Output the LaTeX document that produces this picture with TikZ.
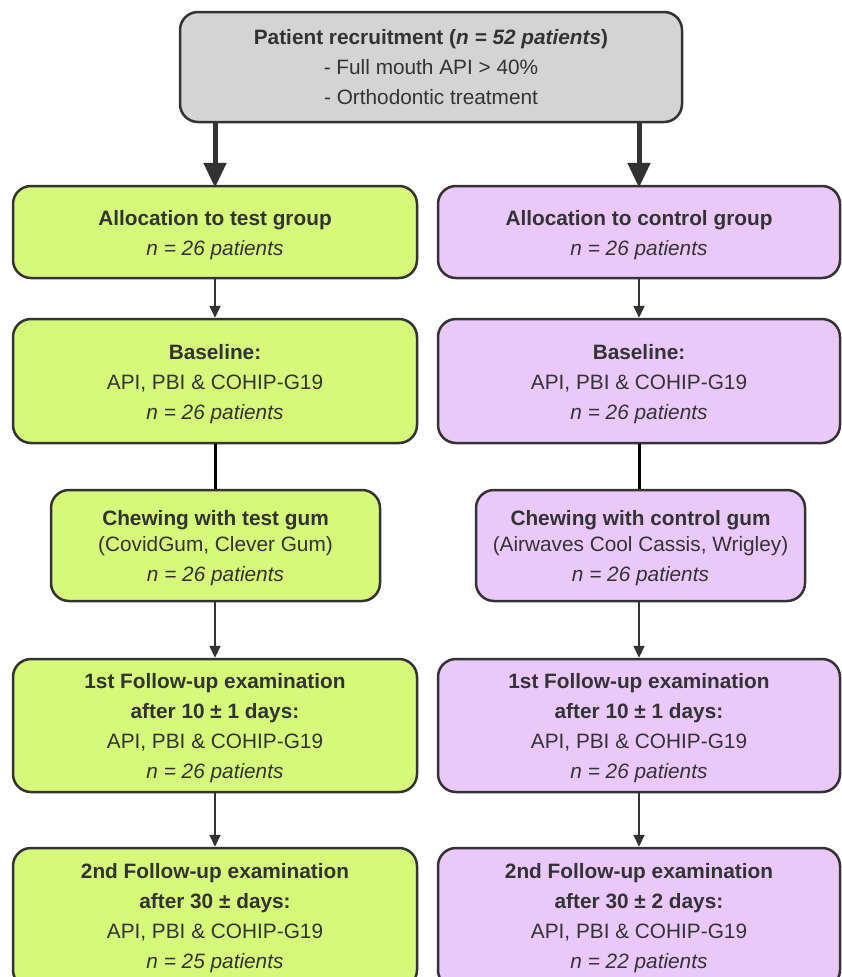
\documentclass[tikz,border=0pt]{standalone}
\usepackage{fontspec}
\setmainfont{Liberation Sans}
\usetikzlibrary{arrows.meta,calc}
\definecolor{txt}{HTML}{333333}
\definecolor{gbox}{HTML}{D6F97B}
\definecolor{pbox}{HTML}{EAC8FB}
\definecolor{greybox}{HTML}{D4D4D4}
\newcommand\tstr{\rule{0pt}{21pt}}
\begin{document}
\begin{tikzpicture}[x=1pt,y=-1pt,
  box/.style={draw=txt, line width=2.5pt, rounded corners=18pt, text=txt, align=center,
    font=\fontsize{20.8}{30}\selectfont, inner sep=0pt},
  gb/.style={box, fill=gbox},
  pb/.style={box, fill=pbox},
  bigarrow/.style={draw=txt, line width=5pt, -{Triangle[length=25pt,width=22pt]}},
  smallarrow/.style={draw=txt, line width=2pt, -{Triangle[length=12pt,width=11pt]}},
  plainline/.style={draw=black, line width=3pt}]
\useasboundingbox (0,0) rectangle (842,977);

\node[box, fill=greybox, minimum width=502pt, minimum height=110pt] (top) at (431,67)
  {\textbf{Patient recruitment (\textit{n = 52 patients})}\\- Full mouth API > 40\%\\- Orthodontic treatment};

\node[gb, minimum width=404pt, minimum height=92pt] (al) at (215,232)
  {\tstr\textbf{Allocation to test group}\\\textit{n = 26 patients}};
\node[pb, minimum width=402pt, minimum height=92pt] (ar) at (639,232)
  {\tstr\textbf{Allocation to control group}\\\textit{n = 26 patients}};

\node[gb, minimum width=404pt, minimum height=124pt] (bl) at (215,381)
  {\tstr\textbf{Baseline:}\\API, PBI \& COHIP-G19\\\textit{n = 26 patients}};
\node[pb, minimum width=402pt, minimum height=124pt] (br) at (639,381)
  {\tstr\textbf{Baseline:}\\API, PBI \& COHIP-G19\\\textit{n = 26 patients}};

\node[gb, minimum width=329pt, minimum height=111pt] (cl) at (215.5,545.5)
  {\tstr\textbf{Chewing with test gum}\\[-4pt](CovidGum, Clever Gum)\\\textit{n = 26 patients}};
\node[pb, minimum width=329pt, minimum height=111pt] (cr) at (640.5,545.5)
  {\tstr\textbf{Chewing with control gum}\\[-4pt](Airwaves Cool Cassis, Wrigley)\\\textit{n = 26 patients}};

\node[gb, minimum width=404pt, minimum height=133pt] (fl) at (215,725.5)
  {\tstr\textbf{1st Follow-up examination}\\\textbf{after 10 ± 1 days:}\\API, PBI \& COHIP-G19\\\textit{n = 26 patients}};
\node[pb, minimum width=402pt, minimum height=133pt] (fr) at (639,725.5)
  {\tstr\textbf{1st Follow-up examination}\\\textbf{after 10 ± 1 days:}\\API, PBI \& COHIP-G19\\\textit{n = 26 patients}};

\node[gb, minimum width=404pt, minimum height=140pt] (sl) at (215,918)
  {\textbf{2nd Follow-up examination}\\\textbf{after 30 ± days:}\\API, PBI \& COHIP-G19\\\textit{n = 25 patients}};
\node[pb, minimum width=402pt, minimum height=140pt] (sr) at (639,918)
  {\textbf{2nd Follow-up examination}\\\textbf{after 30 ± 2 days:}\\API, PBI \& COHIP-G19\\\textit{n = 22 patients}};

\draw[bigarrow] (top.south -| al.north) -- ([yshift=-3pt]al.north);
\draw[bigarrow] (top.south -| ar.north) -- ([yshift=-3pt]ar.north);

\draw[smallarrow] (al.south) -- (bl.north);
\draw[smallarrow] (ar.south) -- (br.north);
\draw[plainline] (bl.south) -- (cl.north -| bl.south);
\draw[plainline] (br.south) -- (cr.north -| br.south);
\draw[smallarrow] (cl.south -| fl.north) -- (fl.north);
\draw[smallarrow] (cr.south -| fr.north) -- (fr.north);
\draw[smallarrow] (fl.south) -- (sl.north);
\draw[smallarrow] (fr.south) -- (sr.north);
\end{tikzpicture}
\end{document}
